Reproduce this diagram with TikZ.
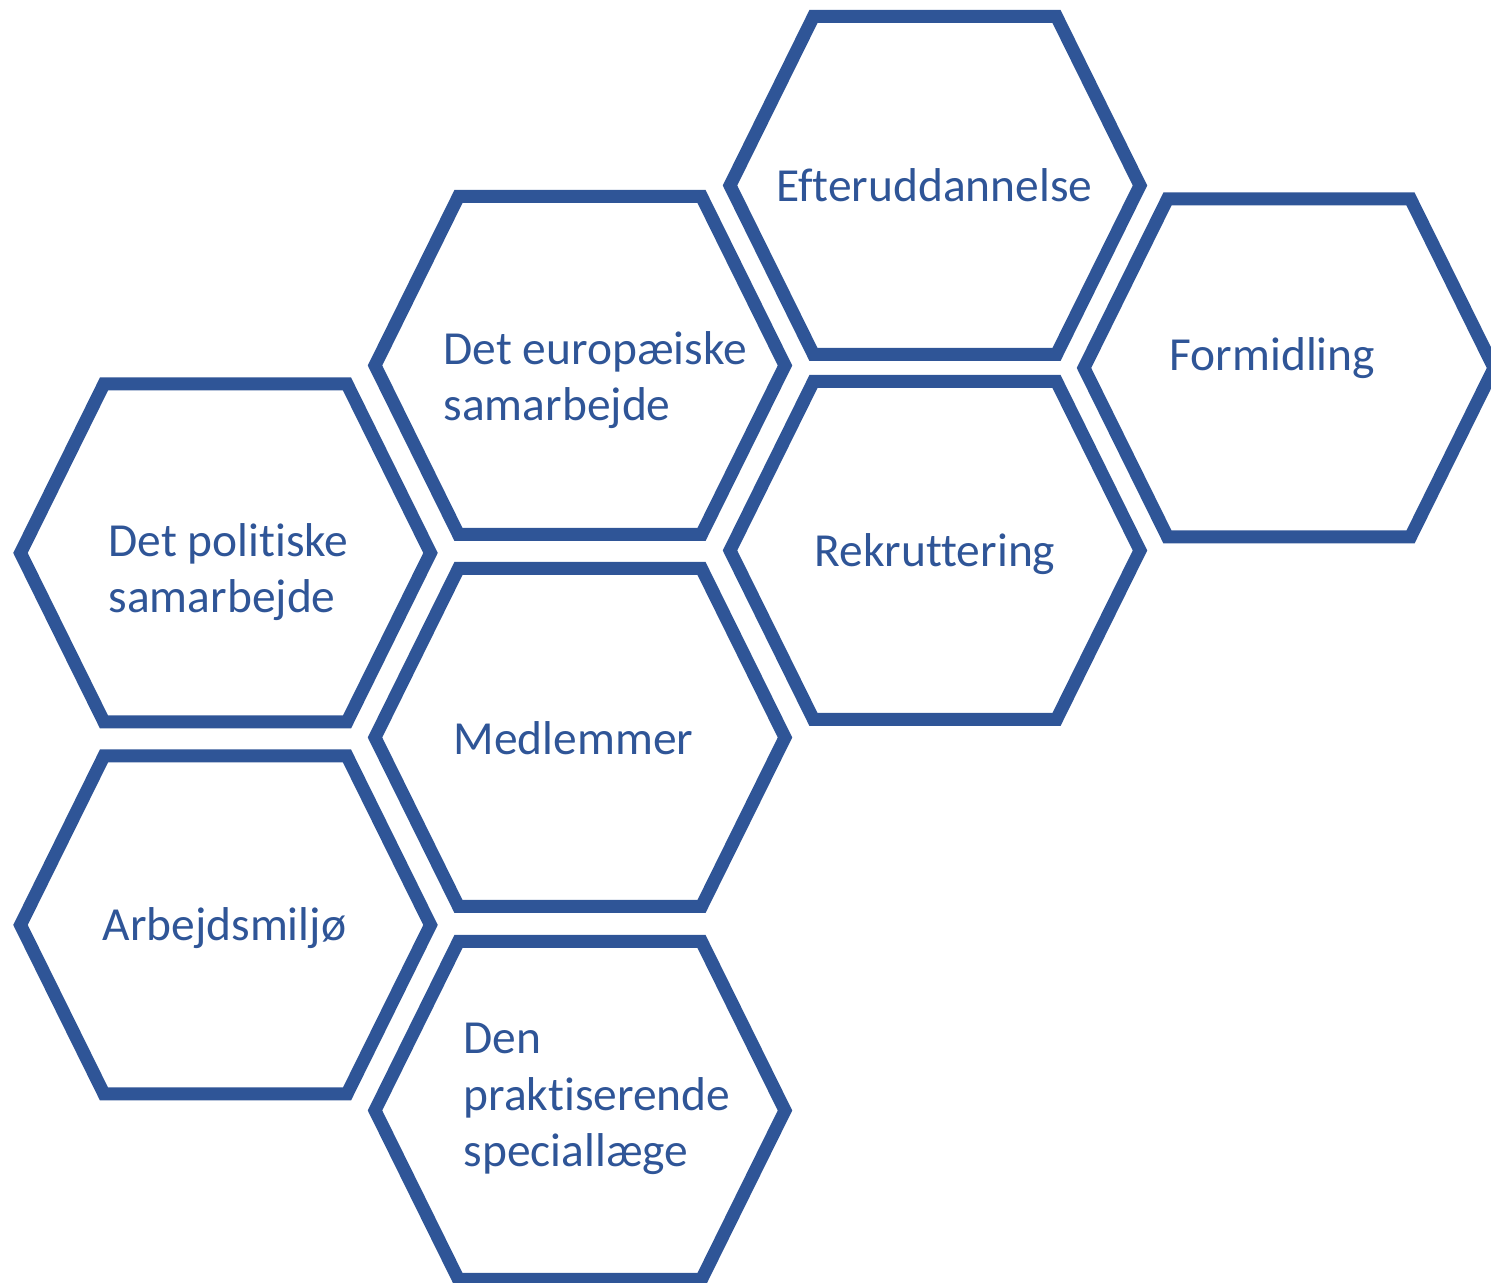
\documentclass[tikz,border=0pt]{standalone}
\usepackage{fontspec}
\setmainfont{Carlito}[Ligatures=NoCommon]
\usepackage{tikz}
\usetikzlibrary{positioning}

\definecolor{hexblue}{HTML}{2F5597}

\tikzset{
  hexline/.style={draw=hexblue, line width=0.13cm, line join=miter},
  hextext/.style={text=hexblue, inner sep=0pt, anchor=base west, align=left,
    font=\fontsize{13.5pt}{16.2pt}\selectfont}
}

\begin{document}
\begin{tikzpicture}
    \useasboundingbox (0,0) rectangle (14.91,-12.83);

    % the eight hexagons (centres)
    \foreach \x/\y in {2.255/-5.53, 2.255/-9.25,
                       5.80/-3.655, 5.80/-7.375, 5.80/-11.105,
                       9.35/-1.855, 9.35/-5.505,
                       12.89/-3.68}
      \draw[hexline, shift={(\x,\y)}]
        (-2.05,0) -- (-1.215,1.69) -- (1.215,1.69) -- (2.05,0)
        -- (1.215,-1.69) -- (-1.215,-1.69) -- cycle;

    % labels (base = last line)
    \node[hextext] (efter) at (7.76,-2.02)  {Efteruddannelse};
    \node[hextext] (formid) at (11.69,-3.71) {Formidling};
    \node[hextext] (europa) at (4.43,-4.21)  {Det europæiske\\samarbejde};
    \node[hextext] (politik) at (1.08,-6.13) {Det politiske\\samarbejde};
    \node[hextext] (rekrut) at (8.14,-5.67)  {Rekruttering};
    \node[hextext] (medlem) at (4.53,-7.55)  {Medlemmer};
    \node[hextext] (arbmiljo) at (1.02,-9.41) {Arbejdsmiljø};
    \node[hextext] (praksis) at (4.63,-11.67) {Den\\praktiserende\\speciallæge};

\end{tikzpicture}
\end{document}
